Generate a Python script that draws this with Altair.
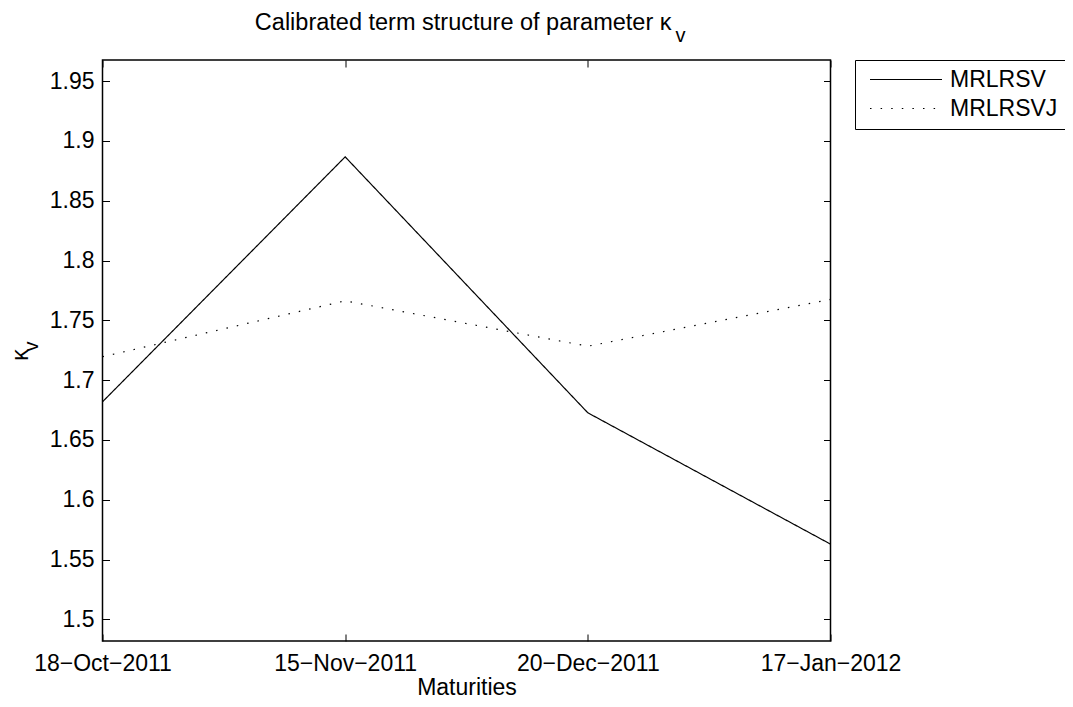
import altair as alt
import pandas as pd

# ---- data ----
maturities = ["18−Oct−2011", "15−Nov−2011", "20−Dec−2011", "17−Jan−2012"]
series_names = ["MRLRSV", "MRLRSVJ"]
mrlrsv = [1.6819, 1.8867, 1.6727, 1.5629]
mrlrsvj = [1.7196, 1.7663, 1.7284, 1.7675]
y_ticks = [1.5, 1.55, 1.6, 1.65, 1.7, 1.75, 1.8, 1.85, 1.9, 1.95]
y_domain = [1.4819, 1.9677]
title_main = "Calibrated term structure of parameter κ"
title_sub = "v"
y_title_main = "κ"
y_title_sub = "v"
x_title = "Maturities"

rows = []
for name, vals in zip(series_names, [mrlrsv, mrlrsvj]):
    for m, v in zip(maturities, vals):
        rows.append({"maturity": m, "value": v, "series": name})
df = pd.DataFrame(rows)

FONT = "Liberation Sans"
FS = 23
W, H = 728, 581

x_scale = alt.Scale(type="point", padding=0, domain=maturities)
y_scale = alt.Scale(domain=y_domain, nice=False, zero=False)

common_axis = dict(grid=False, domain=False, tickColor="black", tickWidth=1,
                   tickSize=7, offset=-7, labelFont=FONT, labelFontSize=FS,
                   labelColor="black", titleFont=FONT, titleFontSize=FS,
                   titleColor="black", titleFontWeight="normal")

lines = alt.Chart(df).mark_line(color="black", strokeWidth=1.2).encode(
    x=alt.X("maturity:N", sort=maturities, scale=x_scale,
            axis=alt.Axis(orient="bottom", labelAngle=0, labelPadding=11,
                          title=x_title, titlePadding=1, **common_axis)),
    y=alt.Y("value:Q", scale=y_scale,
            axis=alt.Axis(orient="left", values=y_ticks, format=".2~f",
                          labelPadding=8.5, title=None, **common_axis)),
    strokeDash=alt.StrokeDash(
        "series:N",
        scale=alt.Scale(domain=series_names, range=[[1, 0], [1.5, 9.1]]),
        legend=alt.Legend(
            orient="none", legendX=752.5, legendY=0, title=None,
            symbolType="stroke", symbolSize=5184, symbolStrokeWidth=1.2,
            symbolStrokeColor="black", labelFont=FONT, labelFontSize=FS,
            labelColor="black", strokeColor="black", fillColor="white",
            padding=8, rowPadding=5, clipHeight=23, symbolOffset=6,
            labelOffset=7,
        ),
    ),
)

frame_axes = alt.Chart(df).mark_point(opacity=0).encode(
    x=alt.X("maturity:N", sort=maturities, scale=x_scale,
            axis=alt.Axis(orient="top", labels=False, title=None, **common_axis)),
    y=alt.Y("value:Q", scale=y_scale,
            axis=alt.Axis(orient="right", values=y_ticks, labels=False,
                          title=None, **common_axis)),
)

t_main = alt.Chart(pd.DataFrame({"t": [title_main]})).mark_text(
    font=FONT, fontSize=23.5, align="right", baseline="alphabetic", color="black"
).encode(x=alt.value(569), y=alt.value(-30), text="t:N")

t_sub = alt.Chart(pd.DataFrame({"t": [title_sub]})).mark_text(
    font=FONT, fontSize=20, align="left", baseline="alphabetic", color="black"
).encode(x=alt.value(573), y=alt.value(-18), text="t:N")

yt_main = alt.Chart(pd.DataFrame({"t": [y_title_main]})).mark_text(
    font=FONT, fontSize=FS, align="center", baseline="middle", angle=270, color="black"
).encode(x=alt.value(-82), y=alt.value(295), text="t:N")

yt_sub = alt.Chart(pd.DataFrame({"t": [y_title_sub]})).mark_text(
    font=FONT, fontSize=20, align="center", baseline="middle", angle=270, color="black"
).encode(x=alt.value(-71), y=alt.value(286.5), text="t:N")

chart = alt.layer(lines, frame_axes, t_main, t_sub, yt_main, yt_sub).resolve_axis(
    x="independent", y="independent"
).properties(
    width=W, height=H,
    autosize=alt.AutoSizeParams(type="none"),
    padding={"left": 94.5, "top": 52, "right": 234, "bottom": 58},
).configure_view(stroke="black", strokeWidth=1.5)

chart.save("out.html", embed_options={"renderer": "svg", "actions": False})
